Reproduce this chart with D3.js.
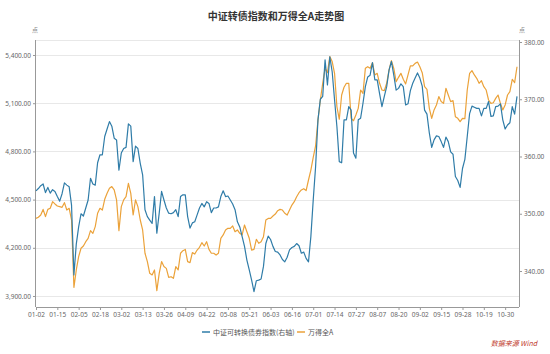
<!DOCTYPE html>
<html>
<head>
<meta charset="utf-8">
<script src="https://cdn.jsdelivr.net/npm/d3@7/dist/d3.min.js"></script>
<style>
  html, body { margin: 0; padding: 0; background: #fff; }
  svg { display: block; font-family: "Noto Sans CJK SC", "Noto Sans", sans-serif; }
</style>
</head>
<body>
<svg id="chart" width="550" height="354"></svg>
<script>
// ---- Data ----
const dates = [
  "01-02","01-03","01-06","01-07","01-08","01-09","01-10","01-13","01-14","01-15","01-16","01-17","01-20","01-21","01-22","01-23",
  "02-03","02-04","02-05","02-06","02-07","02-10","02-11","02-12","02-13","02-14","02-17","02-18","02-19","02-20","02-21","02-24","02-25","02-26","02-27","02-28",
  "03-02","03-03","03-04","03-05","03-06","03-09","03-10","03-11","03-12","03-13","03-16","03-17","03-18","03-19","03-20","03-23","03-24","03-25","03-26","03-27","03-30","03-31",
  "04-01","04-02","04-03","04-07","04-08","04-09","04-10","04-13","04-14","04-15","04-16","04-17","04-20","04-21","04-22","04-23","04-24","04-27","04-28","04-29","04-30",
  "05-06","05-07","05-08","05-11","05-12","05-13","05-14","05-15","05-18","05-19","05-20","05-21","05-22","05-25","05-26","05-27","05-28","05-29",
  "06-01","06-02","06-03","06-04","06-05","06-08","06-09","06-10","06-11","06-12","06-15","06-16","06-17","06-18","06-19","06-22","06-23","06-24","06-29","06-30",
  "07-01","07-02","07-03","07-06","07-07","07-08","07-09","07-10","07-13","07-14","07-15","07-16","07-17","07-20","07-21","07-22","07-23","07-24","07-27","07-28","07-29","07-30","07-31",
  "08-03","08-04","08-05","08-06","08-07","08-10","08-11","08-12","08-13","08-14","08-17","08-18","08-19","08-20","08-21","08-24","08-25","08-26","08-27","08-28","08-31",
  "09-01","09-02","09-03","09-04","09-07","09-08","09-09","09-10","09-11","09-14","09-15","09-16","09-17","09-18","09-21","09-22","09-23","09-24","09-25","09-28","09-29","09-30",
  "10-09","10-12","10-13","10-14","10-15","10-16","10-19","10-20","10-21","10-22","10-23","10-26","10-27","10-28","10-29","10-30",
  "11-02","11-03","11-04","11-05","11-06"
];

// 中证可转换债券指数 (right axis)
const cbIndex = [
  354.0,354.4,354.9,355.2,353.7,354.6,353.6,354.2,353.9,353.0,352.2,353.5,355.4,355.0,354.7,351.5,
  339.3,344.7,347.7,350.0,349.6,351.0,352.4,356.2,355.2,355.0,358.9,360.3,360.3,363.5,364.8,366.1,365.3,363.2,362.9,357.6,
  360.6,361.4,361.6,365.7,365.3,359.1,361.8,361.4,358.8,356.8,350.7,349.5,348.9,348.3,353.0,346.6,350.1,353.9,352.4,351.0,350.1,350.0,
  350.2,350.7,349.5,353.0,353.3,353.3,349.5,347.5,348.4,348.6,349.8,351.0,351.8,351.2,352.1,351.8,350.2,351.0,351.0,351.2,353.0,
  354.0,353.0,353.1,352.4,351.7,350.7,348.6,347.7,346.0,344.3,341.9,340.2,338.4,336.4,338.3,338.4,338.6,340.8,
  344.8,346.1,345.5,344.3,343.4,343.3,342.8,342.0,341.6,342.4,343.7,344.1,344.3,344.8,344.4,343.1,343.3,342.2,341.6,346.0,
  352.4,358.2,366.4,370.0,370.5,376.9,372.5,377.4,374.8,369.9,365.2,359.1,358.9,366.4,366.4,368.7,368.1,360.6,359.7,366.4,366.7,369.3,372.2,
  373.9,374.2,376.4,373.4,373.4,371.0,368.7,370.5,372.2,375.1,376.6,374.2,371.6,371.9,372.7,372.2,369.0,369.2,371.5,372.8,373.7,
  374.6,373.7,372.3,368.1,367.4,364.1,361.6,362.9,363.6,363.5,362.6,361.6,363.4,362.6,360.8,360.4,356.5,355.8,354.6,357.9,359.5,363.5,
  367.5,368.8,368.6,368.4,368.4,367.1,368.4,368.4,369.6,367.0,367.1,368.7,368.8,369.2,366.4,364.8,
  365.5,365.9,368.7,367.4,370.5
];

// 万得全A (left axis)
const windA = [
  4383,4390,4404,4439,4394,4439,4446,4487,4473,4460,4456,4452,4481,4435,4446,4373,
  3954,4062,4145,4197,4211,4238,4259,4307,4290,4332,4415,4446,4435,4502,4539,4570,4581,4560,4498,4307,
  4456,4498,4518,4601,4539,4404,4498,4456,4373,4311,4166,4114,4041,4031,4062,3933,4041,4114,4083,4072,4016,4020,
  4010,4083,4062,4166,4182,4190,4114,4108,4170,4161,4186,4203,4232,4211,4238,4190,4166,4166,4155,4166,4259,
  4280,4311,4321,4321,4336,4300,4311,4290,4280,4342,4300,4259,4186,4190,4253,4228,4238,4269,
  4373,4383,4383,4398,4410,4431,4439,4435,4415,4404,4435,4466,4487,4518,4543,4560,4568,4556,4622,4684,
  4763,4834,4995,5120,5224,5317,5290,5390,5359,5286,5078,5000,5151,5199,5224,5224,5006,4991,5027,5068,5182,5161,5317,
  5327,5317,5352,5276,5286,5224,5182,5178,5224,5307,5365,5317,5234,5261,5286,5249,5220,5276,5332,5332,5348,
  5356,5327,5290,5203,5186,5068,5006,5058,5089,5141,5110,5099,5193,5151,5110,5116,5016,5006,4985,5006,5004,5182,
  5286,5303,5276,5255,5224,5240,5203,5182,5120,5099,5103,5130,5151,5099,5058,5089,
  5151,5172,5249,5228,5327
];

const leftTicks = [3900, 4200, 4500, 4800, 5100, 5400];
const rightTicks = [340, 350, 360, 370, 380];
const xTickLabels = ["01-02","01-15","02-05","02-18","03-02","03-13","03-26","04-09","04-22","05-08","05-21","06-03",
  "06-16","07-01","07-14","07-27","08-07","08-20","09-02","09-15","09-28","10-19","10-30"];

const seriesNames = ["中证可转换债券指数(右轴)", "万得全A"];
const colors = ["#2f7ca8", "#eba23a"];

// ---- Drawing ----
const svg = d3.select("#chart");
const plot = { left: 36, right: 519, top: 40, bottom: 307 };

const x = d3.scalePoint().domain(dates).range([plot.left, 517]);
const yL = d3.scaleLinear().domain([3831.5, 5493.4]).range([plot.bottom, plot.top]);
const yR = d3.scaleLinear().domain([333.71, 380.35]).range([plot.bottom, plot.top]);

// title
svg.append("text")
  .attr("x", 276).attr("y", 20)
  .attr("text-anchor", "middle")
  .attr("font-size", 10).attr("font-weight", "bold")
  .attr("fill", "#333")
  .text("中证转债指数和万得全A走势图");

// unit labels
svg.append("text").attr("x", 35).attr("y", 32).attr("text-anchor", "middle")
  .attr("font-size", 6).attr("fill", "#888").text("点");
svg.append("text").attr("x", 522).attr("y", 32).attr("text-anchor", "middle")
  .attr("font-size", 6).attr("fill", "#888").text("点");

// gridlines
svg.append("g").selectAll("line")
  .data(leftTicks)
  .join("line")
  .attr("x1", plot.left).attr("x2", plot.right)
  .attr("y1", d => Math.round(yL(d)) + 0.5).attr("y2", d => Math.round(yL(d)) + 0.5)
  .attr("stroke", "#e8e8e8").attr("stroke-width", 1);
svg.append("line")
  .attr("x1", plot.left).attr("x2", plot.right)
  .attr("y1", plot.top + 0.5).attr("y2", plot.top + 0.5)
  .attr("stroke", "#e8e8e8");

// left axis
const axL = svg.append("g").attr("transform", `translate(${plot.left},0)`)
  .call(d3.axisLeft(yL).tickValues(leftTicks).tickFormat(d3.format(",.2f")).tickSize(3).tickPadding(2));
axL.select(".domain").attr("stroke", "#999").attr("d", `M-0.5,${plot.top}V${plot.bottom}`);

// right axis
const axR = svg.append("g").attr("transform", `translate(${plot.right},0)`)
  .call(d3.axisRight(yR).tickValues(rightTicks).tickFormat(d3.format(".2f")).tickSize(3).tickPadding(2));
axR.select(".domain").attr("stroke", "#999").attr("d", `M0.5,${plot.top}V${plot.bottom}`);

// x axis
const axX = svg.append("g").attr("transform", `translate(0,${plot.bottom})`)
  .call(d3.axisBottom(x).tickValues(xTickLabels).tickSize(3).tickPadding(2));
axX.select(".domain").attr("stroke", "#999").attr("d", `M${plot.left},0.5H${plot.right}`);

[axL, axR, axX].forEach(a => {
  a.selectAll(".tick line").attr("stroke", "#999");
  a.selectAll(".tick text").attr("font-size", 6.5).attr("fill", "#666")
    .attr("font-family", "'Noto Sans', 'DejaVu Sans', sans-serif");
});

// lines
const lineR = d3.line().x((d, i) => x(dates[i])).y(d => yR(d));
const lineL = d3.line().x((d, i) => x(dates[i])).y(d => yL(d));

svg.append("path").datum(windA)
  .attr("fill", "none").attr("stroke", colors[1]).attr("stroke-width", 1.2)
  .attr("stroke-linejoin", "round").attr("d", lineL);
svg.append("path").datum(cbIndex)
  .attr("fill", "none").attr("stroke", colors[0]).attr("stroke-width", 1.2)
  .attr("stroke-linejoin", "round").attr("d", lineR);

// legend
const legend = svg.append("g").attr("transform", "translate(202,332)");
const legendItems = [
  { name: seriesNames[0], color: colors[0], dx: 0 },
  { name: seriesNames[1], color: colors[1], dx: 95 }
];
legendItems.forEach(it => {
  const g = legend.append("g").attr("transform", `translate(${it.dx},0)`);
  g.append("line").attr("x1", 0).attr("x2", 8).attr("y1", 0).attr("y2", 0)
    .attr("stroke", it.color).attr("stroke-width", 1.5);
  g.append("text").attr("x", 11).attr("y", 2.5)
    .attr("font-size", 7).attr("fill", "#555").text(it.name);
});

// source
svg.append("text")
  .attr("x", 537).attr("y", 346)
  .attr("text-anchor", "end")
  .attr("font-size", 7).attr("font-style", "italic")
  .attr("fill", "#c0392b")
  .text("数据来源 Wind");
</script>
</body>
</html>
